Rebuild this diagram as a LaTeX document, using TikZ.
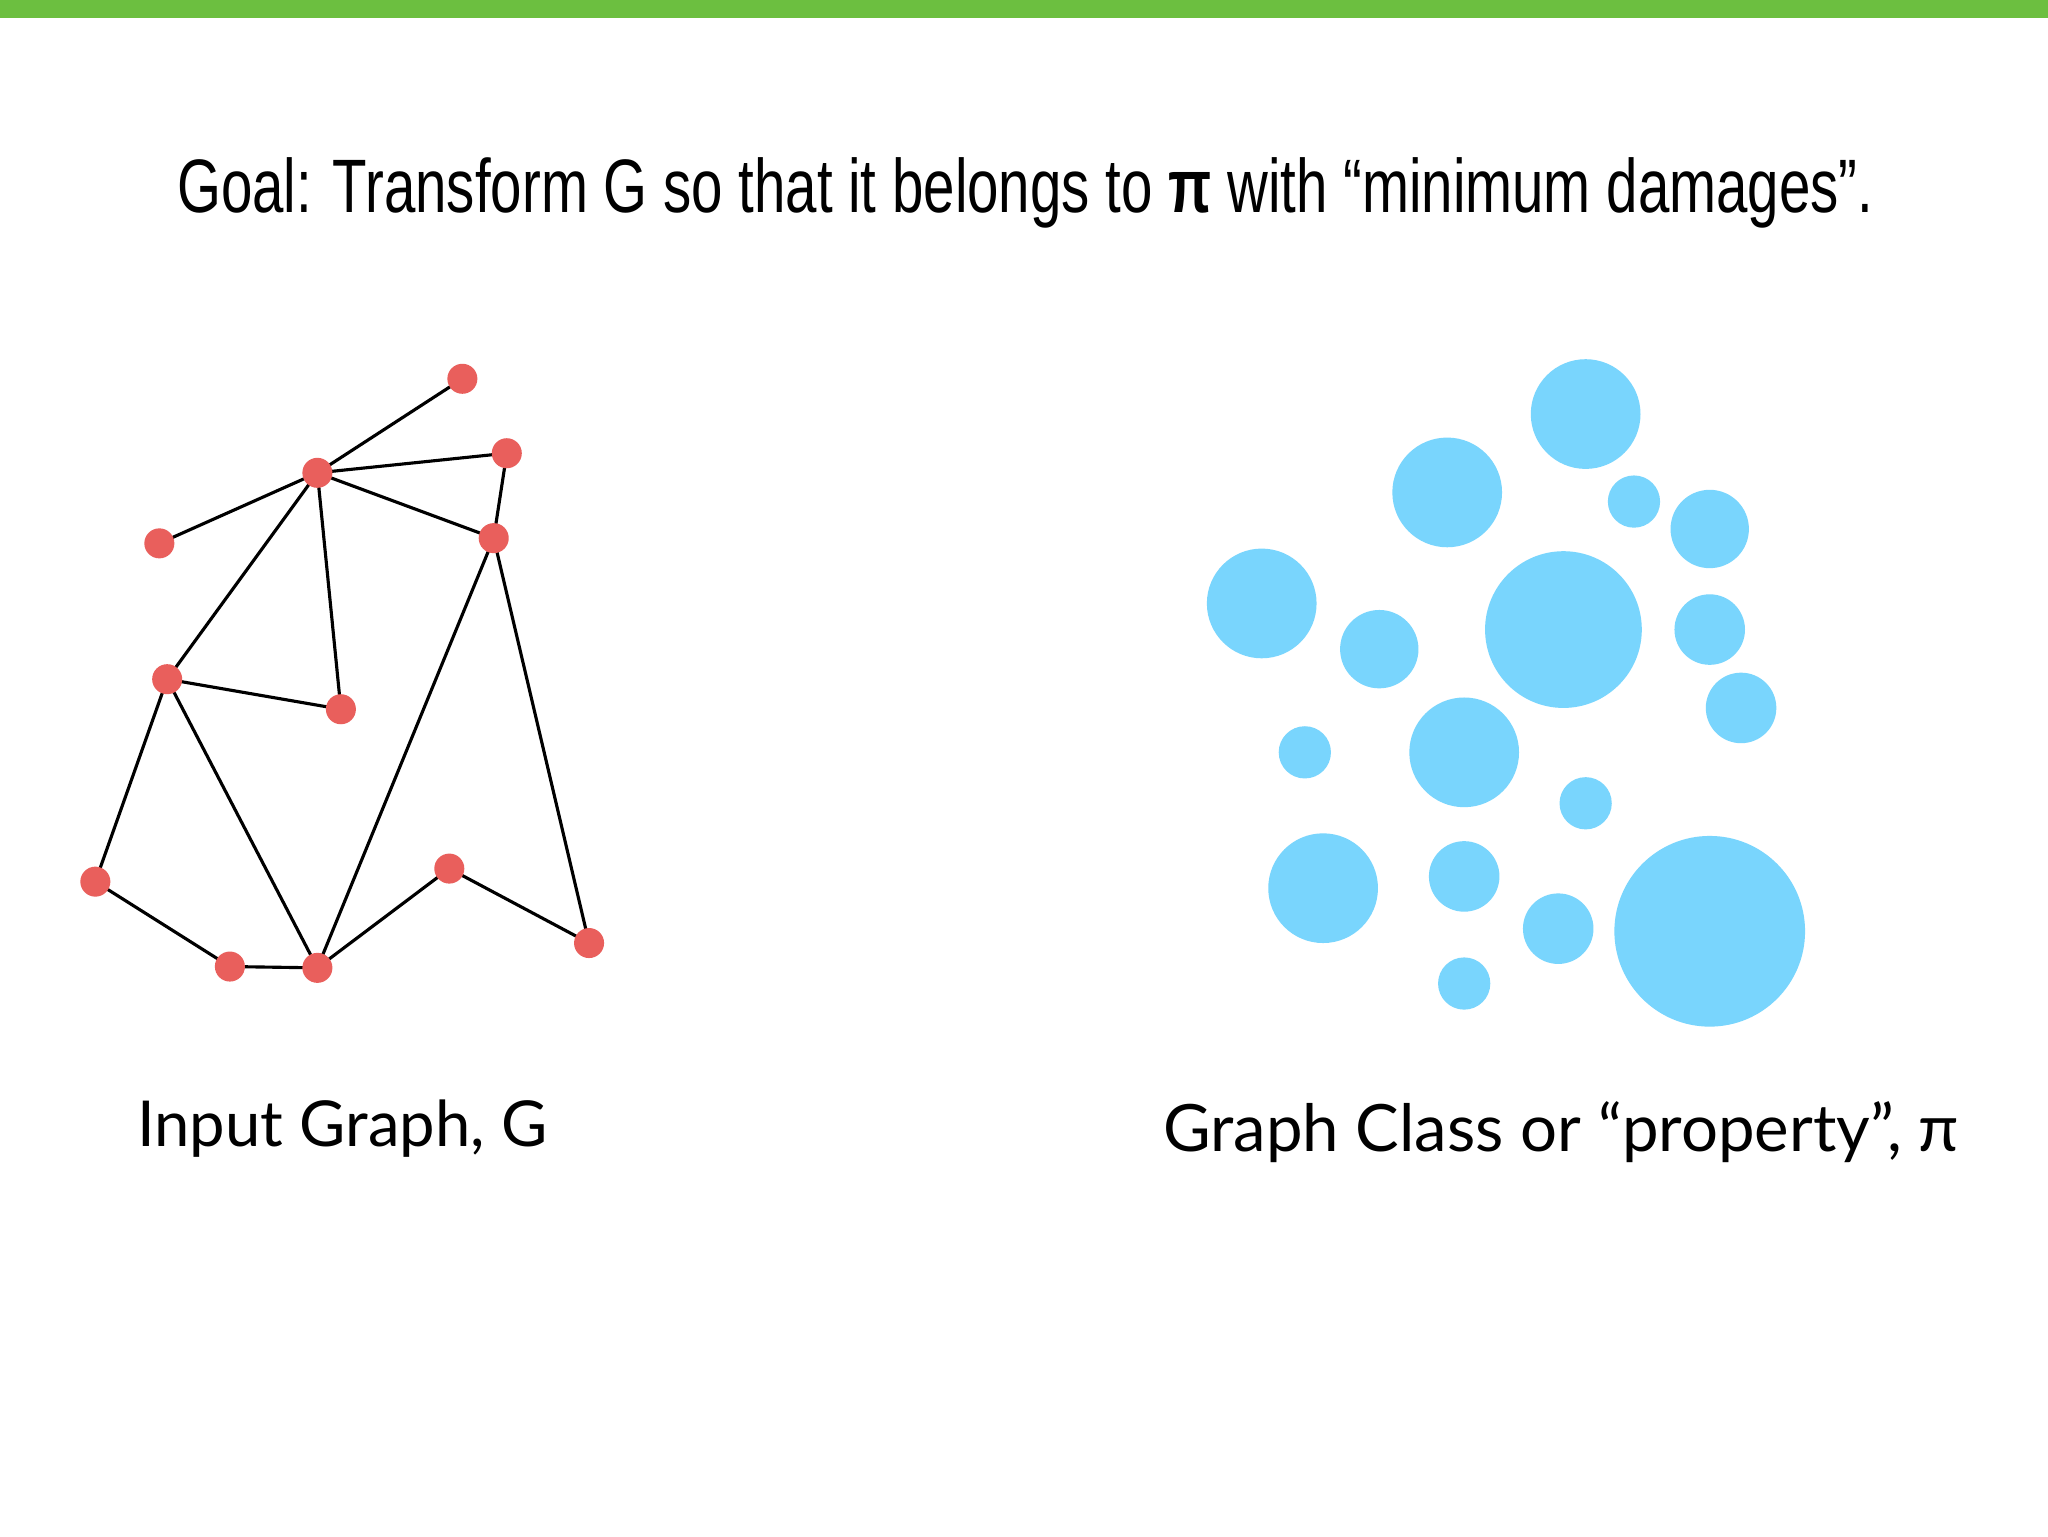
\documentclass[tikz,border=0pt]{standalone}
\usepackage{fontspec}
\setmainfont{Lato}
\newfontfamily\titlefont{Liberation Sans}
\definecolor{gbar}{HTML}{6CBF40}
\definecolor{vred}{HTML}{E95F5C}
\definecolor{cblue}{HTML}{79D5FD}
\begin{document}
\begin{tikzpicture}[x=1pt,y=-1pt,
  vtx/.style={circle,fill=vred,inner sep=0pt,minimum size=23pt},
  edge/.style={line width=2.4pt,black},
  blob/.style={fill=cblue}]
\useasboundingbox (0,0) rectangle (1568,1176);
\fill[white] (0,0) rectangle (1568,1176);
\fill[gbar] (0,0) rectangle (1568,14);
\node (title) at (785,148) {\scalebox{0.745}[1]{\titlefont\fontsize{58}{64}\selectfont Goal: Transform G so that it belongs to \textbf{π} with “minimum damages”.}};
\foreach \n/\x/\y in {a/354/290,b/243/362,c/388/347,d/122/416,e/378/412,f/128/520,g/261/543,h/73/675,i/176/740,j/243/741,k/344/665,l/451/722}
  \coordinate (\n) at (\x,\y);
\foreach \u/\v in {a/b,b/c,b/d,b/e,c/e,b/f,b/g,f/g,f/h,f/j,e/j,e/l,h/i,i/j,j/k,k/l}
  \draw[edge] (\u) -- (\v);
\foreach \n in {a,b,c,d,e,f,g,h,i,j,k,l}
  \node[vtx] (v\n) at (\n) {};
\foreach \x/\y/\r [count=\i] in {1214/317/42,1108/377/42,1251/384/20,1309/405/30,966/462/42,1056/497/30,1197/482/60,1309/482/27,1333/542/27,999/576/20,1121/576/42,1214/615/20,1013/680/42,1121/671/27,1193/711/27,1309/713/73,1121/753/20}
  \fill[blob] (\x,\y) circle[radius=\r];
\node (lg) at (262,864) {\fontsize{48.5}{54}\selectfont Input Graph, G};
\node (lp) at (1195,867) {\fontsize{50}{56}\selectfont Graph Class or “property”, π};
\end{tikzpicture}
\end{document}
